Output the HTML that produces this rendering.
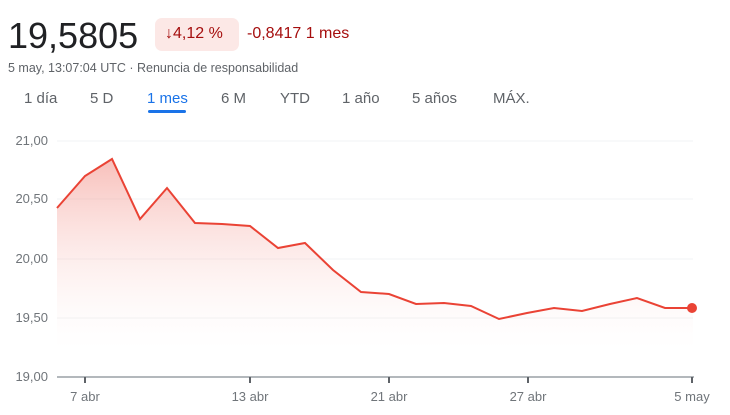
<!DOCTYPE html>
<html><head><meta charset="utf-8"><style>
body{margin:0;width:730px;height:415px;background:#fff;font-family:"Liberation Sans",Arial,sans-serif;position:relative;overflow:hidden}
.a{position:absolute;white-space:nowrap}
</style></head><body>
<div class="a" style="left:8px;top:15px;font-size:36px;color:#202124">19,5805</div>
<div class="a" style="left:155px;top:18px;width:84px;height:33px;background:#fce8e6;border-radius:7px"></div>
<div class="a" style="left:165px;top:25px;font-size:16px;color:#a50e0e">↓4,12 %</div>
<div class="a" style="left:247px;top:25px;font-size:16px;color:#a50e0e">-0,8417 1 mes</div>
<div class="a" style="left:8px;top:61px;font-size:12.5px;color:#5f6368">5 may, 13:07:04 UTC · Renuncia de responsabilidad</div>
<div class="a" style="top:90px;font-size:15px;color:#5f6368;left:0;width:730px">
<span class="a" style="left:24px">1 día</span><span class="a" style="left:90px">5 D</span><span class="a" style="left:147px;color:#1a73e8">1 mes</span><span class="a" style="left:221px">6 M</span><span class="a" style="left:280px">YTD</span><span class="a" style="left:342px">1 año</span><span class="a" style="left:412px">5 años</span><span class="a" style="left:493px">MÁX.</span></div>
<div class="a" style="left:148px;top:110px;width:38px;height:3px;background:#1a73e8;border-radius:2px"></div>
<svg class="a" style="left:0;top:0" width="730" height="415">
<defs><linearGradient id="g" x1="0" y1="0" x2="0" y2="1"><stop offset="0" stop-color="#f28b82" stop-opacity=".55"/><stop offset="1" stop-color="#fce8e6" stop-opacity="0"/></linearGradient></defs>
<g stroke="#f1f3f4" stroke-width="1"><line x1="57" x2="693" y1="141" y2="141"/><line x1="57" x2="693" y1="199" y2="199"/><line x1="57" x2="693" y1="259" y2="259"/><line x1="57" x2="693" y1="318" y2="318"/></g>
<g font-size="13" fill="#70757a" text-anchor="end"><text x="48" y="145">21,00</text><text x="48" y="203">20,50</text><text x="48" y="263">20,00</text><text x="48" y="322">19,50</text><text x="48" y="381">19,00</text></g>
<polygon fill="url(#g)" points="57,208 85,176 112,159 140,219 167,188 195,223 222,224 250,226 278,248 305,243 333,270 361,292 389,294 416,304 444,303 471,306 499,319 527,313 554,308 582,311 610,304 637,298 665,308 693,308 693,350 57,350"/>
<polyline fill="none" stroke="#ea4335" stroke-width="2" points="57,208 85,176 112,159 140,219 167,188 195,223 222,224 250,226 278,248 305,243 333,270 361,292 389,294 416,304 444,303 471,306 499,319 527,313 554,308 582,311 610,304 637,298 665,308 693,308"/>
<circle cx="692" cy="308" r="5" fill="#ea4335"/>
<line x1="57" x2="694" y1="377" y2="377" stroke="#9aa0a6" stroke-width="1.5"/>
<g stroke="#5f6368" stroke-width="2"><line x1="85" x2="85" y1="377" y2="383"/><line x1="250" x2="250" y1="377" y2="383"/><line x1="389" x2="389" y1="377" y2="383"/><line x1="528" x2="528" y1="377" y2="383"/><line x1="692" x2="692" y1="377" y2="383"/></g>
<g font-size="13" fill="#70757a" text-anchor="middle"><text x="85" y="401">7 abr</text><text x="250" y="401">13 abr</text><text x="389" y="401">21 abr</text><text x="528" y="401">27 abr</text><text x="692" y="401">5 may</text></g>
</svg>
</body></html>
